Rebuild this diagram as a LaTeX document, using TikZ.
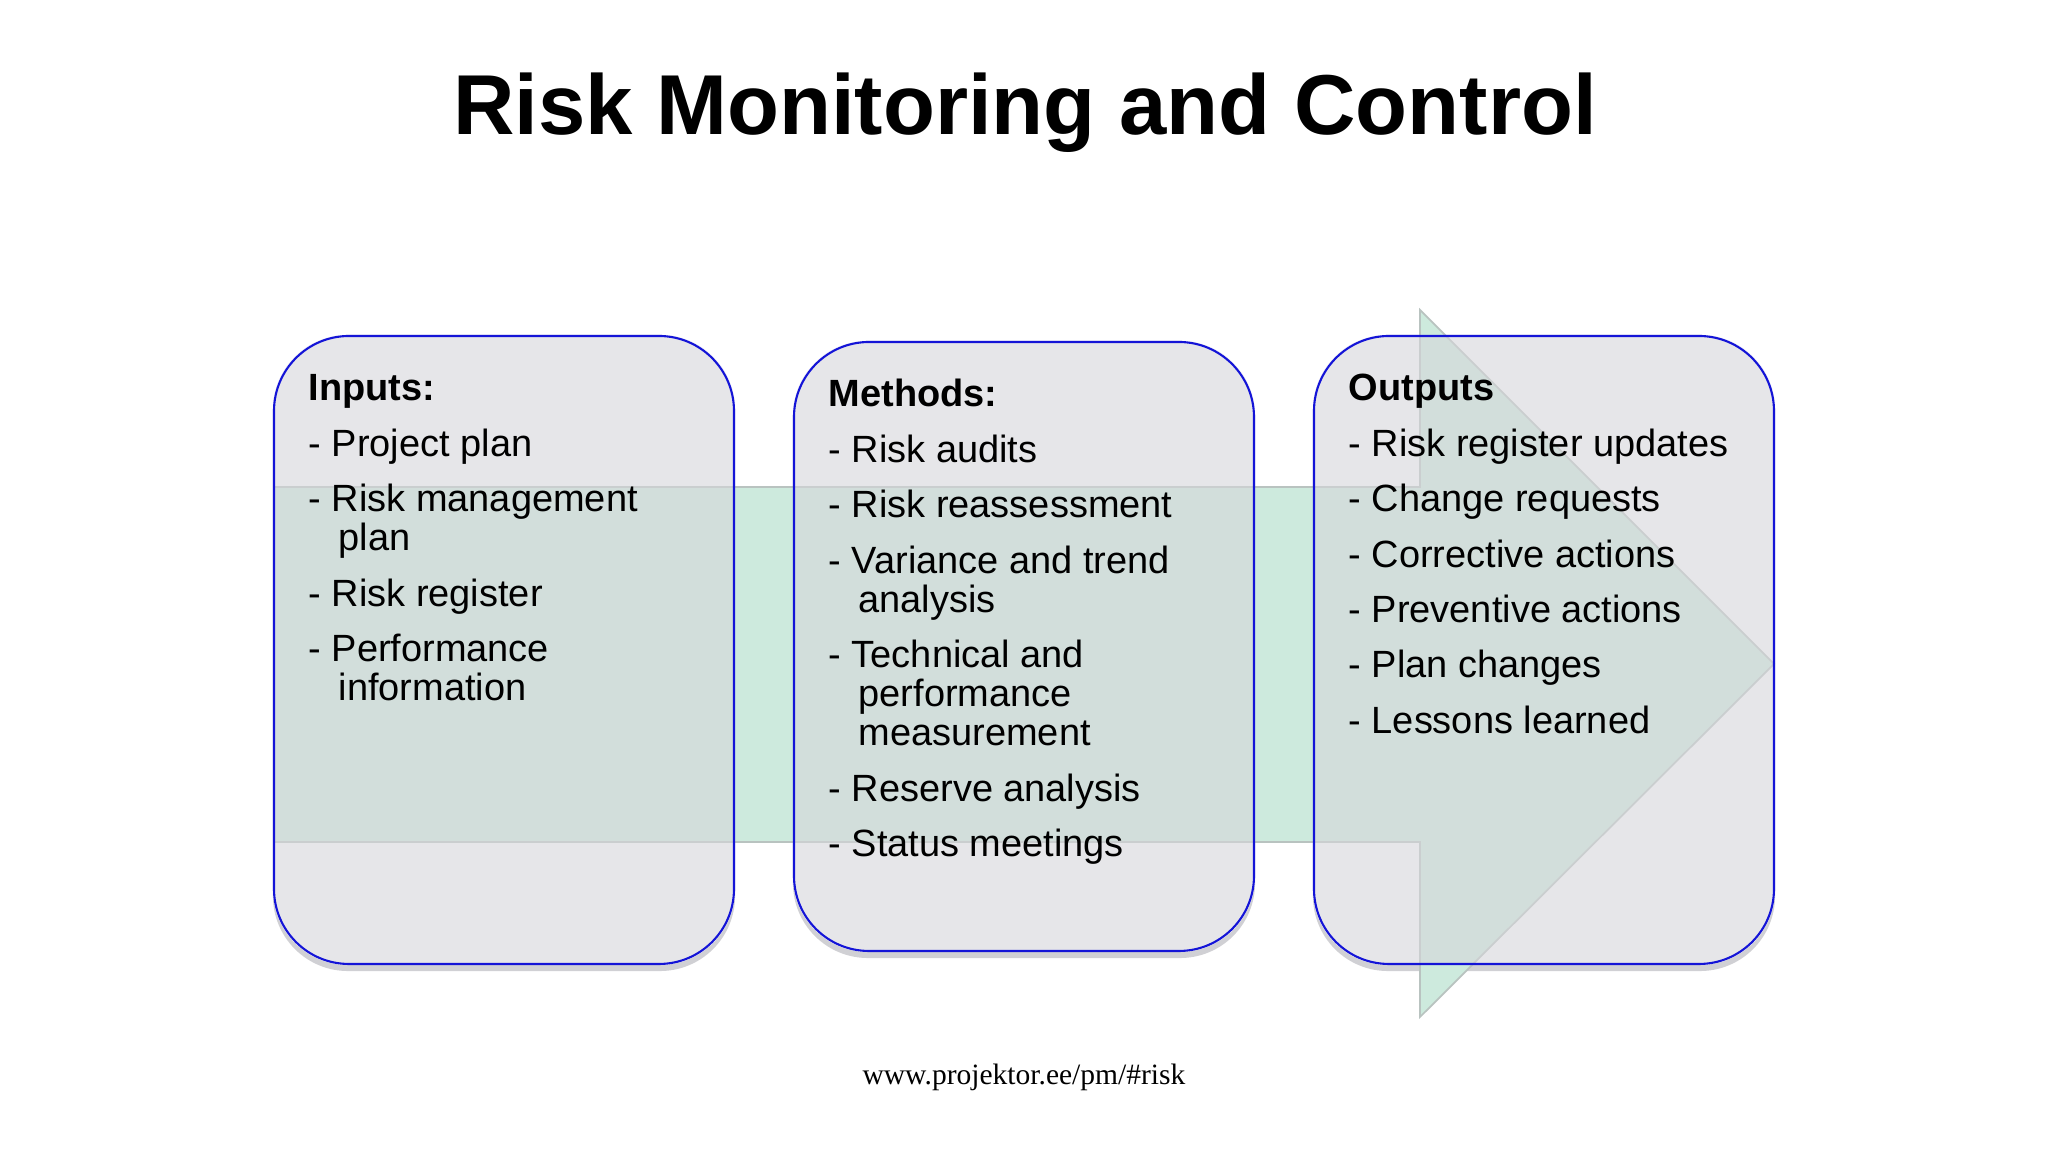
\documentclass[tikz,border=0pt]{standalone}
\usepackage{fontspec}
\setmainfont{Liberation Sans}
\newfontfamily\urlfont{Liberation Serif}
\usepackage{tikz}
\usetikzlibrary{backgrounds}
\definecolor{arrowcolor}{RGB}{205, 234, 221}
\definecolor{arrowedge}{RGB}{185, 195, 192}
\definecolor{boxcolor}{RGB}{214, 214, 218}
\definecolor{bordercolor}{RGB}{20, 20, 215}
\definecolor{shadowcolor}{RGB}{208, 208, 212}

\begin{document}
\begin{tikzpicture}[
    box/.style={rectangle, rounded corners=0.75cm, minimum width=4.6cm, inner sep=0pt,
        draw=bordercolor, line width=0.6pt, fill=boxcolor, fill opacity=0.6},
    listtext/.style={anchor=base west, inner sep=0pt, font=\fontsize{10.8}{11.1}\selectfont},
    boxshadow/.style={fill=shadowcolor, even odd rule, rounded corners=0.75cm}
]
    \useasboundingbox (0,0) rectangle (20.48,11.52);

    % Title
    \node[font=\fontsize{24.2}{29}\selectfont\bfseries, anchor=base] (title) at (10.25, 10.17) {Risk Monitoring and Control};

    % Boxes
    \node[box, minimum height=6.28cm] (inbox) at (5.04, 5.02) {};
    \node[box, minimum height=6.09cm] (methbox) at (10.24, 5.055) {};
    \node[box, minimum height=6.28cm] (outbox) at (15.44, 5.02) {};

    % Shadows and the big arrow behind the boxes
    \begin{scope}[on background layer]
        \fill[boxshadow] ([yshift=-0.06cm]inbox.south west) rectangle (inbox.north east) (inbox.south west) rectangle (inbox.north east);
        \fill[boxshadow] ([yshift=-0.06cm]methbox.south west) rectangle (methbox.north east) (methbox.south west) rectangle (methbox.north east);
        \fill[boxshadow] ([yshift=-0.06cm]outbox.south west) rectangle (outbox.north east) (outbox.south west) rectangle (outbox.north east);
        \filldraw[fill=arrowcolor, draw=arrowedge, line width=0.5pt]
            (2.74, 6.65) -- (14.20, 6.65) -- (14.20, 8.42) -- (17.74, 4.88)
            -- (14.20, 1.35) -- (14.20, 3.10) -- (2.74, 3.10) -- cycle;
    \end{scope}

    % Lists
    \node[listtext] (intext) at ([shift={(0.35,-0.66)}]inbox.north west) {%
        \begin{tabular}[t]{@{}l@{}}
        \textbf{Inputs:}\\[4.6pt]
        - Project plan\\[4.6pt]
        - Risk management\\
        \hspace*{0.3cm}plan\\[4.6pt]
        - Risk register\\[4.6pt]
        - Performance\\
        \hspace*{0.3cm}information
        \end{tabular}};

    \node[listtext] (methtext) at ([shift={(0.35,-0.66)}]methbox.north west) {%
        \begin{tabular}[t]{@{}l@{}}
        \textbf{Methods:}\\[4.6pt]
        - Risk audits\\[4.6pt]
        - Risk reassessment\\[4.6pt]
        - Variance and trend\\
        \hspace*{0.3cm}analysis\\[4.6pt]
        - Technical and\\
        \hspace*{0.3cm}performance\\
        \hspace*{0.3cm}measurement\\[4.6pt]
        - Reserve analysis\\[4.6pt]
        - Status meetings
        \end{tabular}};

    \node[listtext] (outtext) at ([shift={(0.35,-0.66)}]outbox.north west) {%
        \begin{tabular}[t]{@{}l@{}}
        \textbf{Outputs}\\[4.6pt]
        - Risk register updates\\[4.6pt]
        - Change requests\\[4.6pt]
        - Corrective actions\\[4.6pt]
        - Preventive actions\\[4.6pt]
        - Plan changes\\[4.6pt]
        - Lessons learned
        \end{tabular}};

    % Footer
    \node[font=\urlfont\fontsize{8.4}{10}\selectfont, anchor=base] (link) at (10.24, 0.67) {www.projektor.ee/pm/\#risk};
\end{tikzpicture}
\end{document}
